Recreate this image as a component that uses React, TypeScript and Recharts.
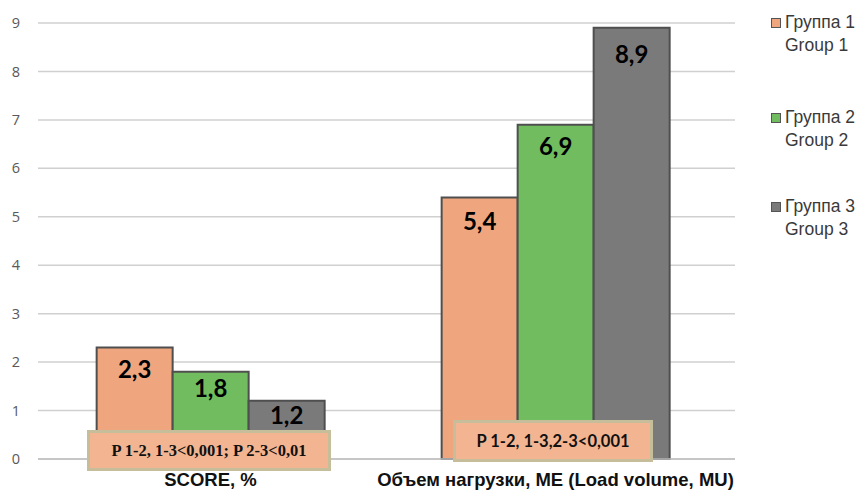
import React from 'react';
import {
  BarChart,
  Bar,
  XAxis,
  YAxis,
  CartesianGrid,
  LabelList,
} from 'recharts';

// ---------------------------------------------------------------------------
// DATA
// ---------------------------------------------------------------------------

const categories = ['SCORE, %', 'Объем нагрузки, МЕ (Load volume, MU)'];
const group1Values = [2.3, 5.4];
const group2Values = [1.8, 6.9];
const group3Values = [1.2, 8.9];
const yTicks = [0, 1, 2, 3, 4, 5, 6, 7, 8, 9];

const seriesNames = [
  ['Группа 1', 'Group 1'],
  ['Группа 2', 'Group 2'],
  ['Группа 3', 'Group 3'],
];
const pValueNotes = ['P 1-2, 1-3<0,001; P 2-3<0,01', 'P 1-2, 1-3,2-3<0,001'];

const data = categories.map((name, i) => ({
  name,
  g1: group1Values[i],
  g2: group2Values[i],
  g3: group3Values[i],
}));

// ---------------------------------------------------------------------------
// STYLE
// ---------------------------------------------------------------------------

const COLORS = ['#efa67f', '#70bc5e', '#7a7a7a'];
const BAR_STROKE = '#4f4f4f';
const GRID = '#d0d0d0';
const NOTE_FILL = '#f3b591';
const NOTE_BORDER = '#c6bd9b';

// distance from bar top to the top of its value label, per series / category
const LABEL_GAP = [
  [13, 15],
  [8, 13],
  [6, 18],
];
const LABEL_SIZE = 24;

const formatValue = (v: unknown) => Number(v).toFixed(1).replace('.', ',');

const valueLabel = (series: number) => (props: any) => {
  const { x, y, width, value, index } = props;
  const top = Number(y) + LABEL_GAP[series][index];
  return (
    <text
      x={Number(x) + Number(width) / 2}
      y={top + LABEL_SIZE * 0.72}
      textAnchor="middle"
      fill="#000"
      fontSize={LABEL_SIZE}
      fontWeight="bold"
      fontFamily="Lato, sans-serif"
    >
      {formatValue(value)}
    </text>
  );
};

// Legend on the right: square swatch + two-line (ru / en) caption
const SeriesLegend = () => (
  <div style={{ position: 'absolute', left: 771, top: 11, width: 94, height: 240 }}>
    {seriesNames.map(([ru, en], i) => (
      <div
        key={ru}
        style={{
          position: 'absolute',
          top: [0, 95, 184][i],
          left: 0,
          fontFamily: '"Liberation Sans", Arial, sans-serif',
          fontSize: 17.5,
          lineHeight: '23px',
          color: '#3a3a3a',
          whiteSpace: 'nowrap',
        }}
      >
        <div style={{ display: 'flex', alignItems: 'center' }}>
          <span
            style={{
              display: 'inline-block',
              width: 8,
              height: 8,
              marginRight: 4,
              background: COLORS[i],
              border: '1px solid #555',
            }}
          />
          {ru}
        </div>
        <div style={{ paddingLeft: 14 }}>{en}</div>
      </div>
    ))}
  </div>
);

const noteBox = (
  left: number,
  top: number,
  width: number,
  height: number,
  text: string,
  font: string,
  size: number,
) => (
  <div
    style={{
      position: 'absolute',
      left,
      top,
      width,
      height,
      boxSizing: 'border-box',
      background: NOTE_FILL,
      border: `3px solid ${NOTE_BORDER}`,
      display: 'flex',
      alignItems: 'center',
      justifyContent: 'center',
      fontFamily: font,
      fontWeight: 'bold',
      fontSize: size,
      color: '#111',
      whiteSpace: 'nowrap',
    }}
  >
    {text}
  </div>
);

export default function App() {
  return (
    <div style={{ position: 'absolute', left: 0, top: 0, width: 864, height: 490, background: '#fff' }}>
      <BarChart
        width={864}
        height={490}
        data={data}
        margin={{ top: 23, right: 129, left: 0, bottom: 6 }}
        barCategoryGap="17%"
        barGap={0}
      >
        <CartesianGrid vertical={false} stroke={GRID} strokeWidth={1.5} />
        <XAxis
          dataKey="name"
          height={25}
          padding={{ left: 0, right: 7 }}
          axisLine={{ stroke: '#bfbfbf', strokeWidth: 1.5 }}
          tickLine={false}
          tickMargin={8}
          interval={0}
          tick={{
            fill: '#111',
            fontSize: 18.5,
            fontWeight: 'bold',
            fontFamily: '"Liberation Sans", Arial, sans-serif',
          }}
        />
        <YAxis
          width={38}
          domain={[0, 9]}
          ticks={yTicks}
          interval={0}
          axisLine={false}
          tickLine={false}
          tickSize={0}
          tickMargin={18}
          tick={{ fill: '#595959', fontSize: 14.5, fontFamily: '"Open Sans", sans-serif' }}
        />
        {(['g1', 'g2', 'g3'] as const).map((key, i) => (
          <Bar
            key={key}
            dataKey={key}
            name={seriesNames[i][0]}
            fill={COLORS[i]}
            stroke={BAR_STROKE}
            strokeWidth={2}
            isAnimationActive={false}
          >
            <LabelList dataKey={key} content={valueLabel(i)} />
          </Bar>
        ))}
      </BarChart>
      <SeriesLegend />
      {noteBox(87, 430, 244, 41, pValueNotes[0], '"Liberation Serif", "Times New Roman", serif', 16.5)}
      {noteBox(453, 420, 200, 42, pValueNotes[1], 'Lato, sans-serif', 16.5)}
    </div>
  );
}
